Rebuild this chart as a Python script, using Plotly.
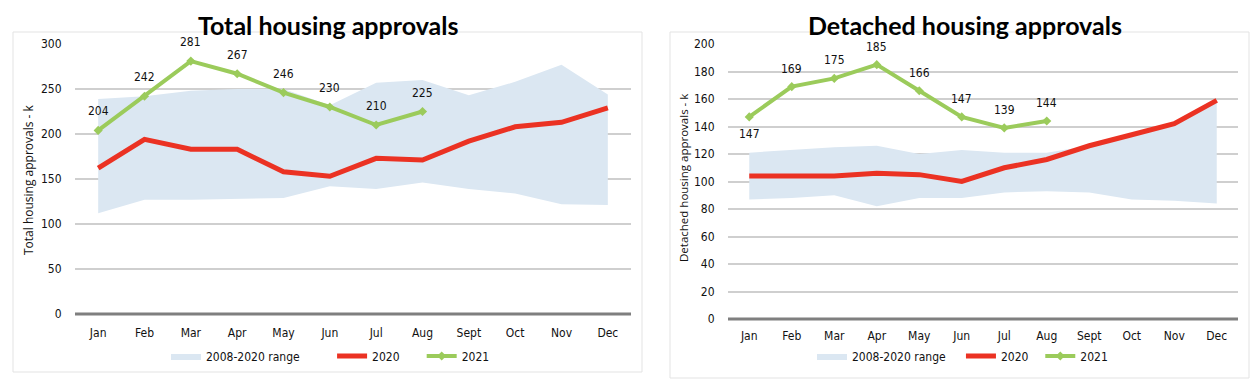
import plotly.graph_objects as go

months = ["Jan", "Feb", "Mar", "Apr", "May", "Jun", "Jul", "Aug", "Sept", "Oct", "Nov", "Dec"]

# Total housing approvals (k)
total_range_low = [112, 127, 127, 128, 129, 142, 139, 146, 139, 134, 122, 121]
total_range_high = [239, 242, 248, 250, 250, 232, 257, 260, 243, 258, 277, 244]
total_2020 = [162, 194, 183, 183, 158, 153, 173, 171, 192, 208, 213, 229]
total_2021 = [204, 242, 281, 267, 246, 230, 210, 225]

# Detached housing approvals (k)
det_range_low = [87, 88, 90, 82, 88, 88, 92, 93, 92, 87, 86, 84]
det_range_high = [121, 123, 125, 126, 120, 123, 121, 121, 126, 134, 142, 159]
det_2020 = [104, 104, 104, 106, 105, 100, 110, 116, 126, 134, 142, 159]
det_2021 = [147, 169, 175, 185, 166, 147, 139, 144]

NB = "\u00a0"
legend_names_left = ["2008-2020 range" + NB * 8, "2020" + NB * 5, "2021"]
legend_names_right = ["2008-2020 range" + NB * 3, "2020" + NB * 2, "2021"]

OFF = 8  # page body margin
W, H = 1258 - OFF, 384 - OFF
L, R, T, B = 75, 1238, 44, 319  # plot region in page pixels


def px(x):
    return (x - L) / (R - L)


def py(y):
    return (B - y) / (B - T)


BAND = "#dbe7f2"
RED = "#eb3223"
GREEN = "#9bcb5b"
FONT = "Liberation Sans Narrow, DejaVu Sans Condensed, Roboto, sans-serif"
CLEAR = "rgba(0,0,0,0)"

fig = go.Figure()

specs = [
    ("x", "y", "legend", total_range_low, total_range_high, total_2020, total_2021, legend_names_left),
    ("x2", "y2", "legend2", det_range_low, det_range_high, det_2020, det_2021, legend_names_right),
]
for xa, ya, lg, lo, hi, y20, y21, names in specs:
    fig.add_trace(go.Scatter(x=months, y=lo, xaxis=xa, yaxis=ya, mode="lines",
                             line=dict(width=0, color=BAND), showlegend=False,
                             hoverinfo="skip", legend=lg))
    fig.add_trace(go.Scatter(x=months, y=hi, xaxis=xa, yaxis=ya, mode="lines",
                             fill="tonexty", fillcolor=BAND, line=dict(width=0, color=BAND),
                             name=names[0], legend=lg))
    fig.add_trace(go.Scatter(x=months, y=y20, xaxis=xa, yaxis=ya, mode="lines",
                             line=dict(width=5, color=RED), name=names[1], legend=lg))
    fig.add_trace(go.Scatter(x=months[:len(y21)], y=y21, xaxis=xa, yaxis=ya,
                             mode="lines+markers",
                             line=dict(width=4, color=GREEN),
                             marker=dict(symbol="diamond", size=7, color=GREEN),
                             name=names[2], legend=lg))

annotations = []
for i, v in enumerate(total_2021):
    annotations.append(dict(x=months[i], y=v, xref="x", yref="y", text=str(v),
                            showarrow=False, yshift=19,
                            font=dict(size=12, color="#111111", family=FONT)))
for i, v in enumerate(det_2021):
    annotations.append(dict(x=months[i], y=v, xref="x2", yref="y2", text=str(v),
                            showarrow=False, yshift=-17 if i == 0 else 18,
                            font=dict(size=12, color="#111111", family=FONT)))

title_font = dict(family="Lato, Open Sans, sans-serif", size=25, color="#000000")
annotations.append(dict(x=px(328), y=py(OFF), xref="paper", yref="paper",
                        text="<b>Total housing approvals</b>", showarrow=False,
                        font=title_font, xanchor="center", yanchor="top"))
annotations.append(dict(x=px(965), y=py(OFF), xref="paper", yref="paper",
                        text="<b>Detached housing approvals</b>", showarrow=False,
                        font=title_font, xanchor="center", yanchor="top"))
annotations.append(dict(x=px(28), y=py(180), xref="paper", yref="paper",
                        text="Total housing approvals - k", showarrow=False, textangle=-90,
                        font=dict(size=12, color="#111111", family="Open Sans, sans-serif"),
                        xanchor="center", yanchor="middle"))
annotations.append(dict(x=px(683), y=py(178), xref="paper", yref="paper",
                        text="Detached housing approvals - k", showarrow=False, textangle=-90,
                        font=dict(size=11.5, color="#111111", family="Open Sans, sans-serif"),
                        xanchor="center", yanchor="middle"))

shapes = [
    dict(type="rect", xref="paper", yref="paper", x0=px(13), x1=px(642), y0=py(372), y1=py(32),
         line=dict(color="#e3e3e3", width=1), fillcolor=CLEAR, layer="below"),
    dict(type="rect", xref="paper", yref="paper", x0=px(670), x1=px(1249), y0=py(378), y1=py(32),
         line=dict(color="#e3e3e3", width=1), fillcolor=CLEAR, layer="below"),
    # baseline (zero) lines of each panel, in paper coordinates so they are never clipped
    dict(type="line", xref="paper", yref="paper", x0=0, x1=px(631), y0=py(314), y1=py(314),
         line=dict(color="#7f7f7f", width=3), layer="above"),
    dict(type="line", xref="paper", yref="paper", x0=px(728), x1=1, y0=0, y1=0,
         line=dict(color="#7f7f7f", width=3), layer="above"),
]

tickfont = dict(size=12, color="#111111", family=FONT)
xaxis_common = dict(type="category", range=[-0.5, 11.5], showgrid=False, zeroline=False,
                    showline=False, ticks="outside", tickcolor=CLEAR, tickwidth=1,
                    tickfont=tickfont, fixedrange=True)
yaxis_common = dict(showgrid=True, gridcolor="#cfcfcf", gridwidth=1.5, zeroline=False,
                    showline=False,
                    ticks="outside", tickcolor=CLEAR, ticklen=10, tickwidth=1,
                    tickfont=tickfont, fixedrange=True)

fig.update_layout(
    width=W, height=H,
    margin=dict(l=L - OFF, r=1258 - R, t=T - OFF, b=384 - B),
    paper_bgcolor="white", plot_bgcolor="white",
    xaxis=dict(domain=[0, px(631)], anchor="y", ticklen=8, **xaxis_common),
    yaxis=dict(domain=[py(314), 1], range=[0, 300], dtick=50,
               anchor="x", **yaxis_common),
    xaxis2=dict(domain=[px(728), 1], anchor="y2", ticklen=6, **xaxis_common),
    yaxis2=dict(domain=[0, 1], range=[0, 200], dtick=20, anchor="x2", **yaxis_common),
    legend=dict(orientation="h", x=px(166), y=py(356), xanchor="left", yanchor="middle",
                font=dict(size=12, color="#111111", family=FONT), bgcolor=CLEAR,
                traceorder="normal", itemwidth=30),
    legend2=dict(orientation="h", x=px(812), y=py(356), xanchor="left", yanchor="middle",
                 font=dict(size=12, color="#111111", family=FONT), bgcolor=CLEAR,
                 traceorder="normal", itemwidth=30),
    annotations=annotations,
    shapes=shapes,
    showlegend=True,
)

fig.write_html("out.html")
